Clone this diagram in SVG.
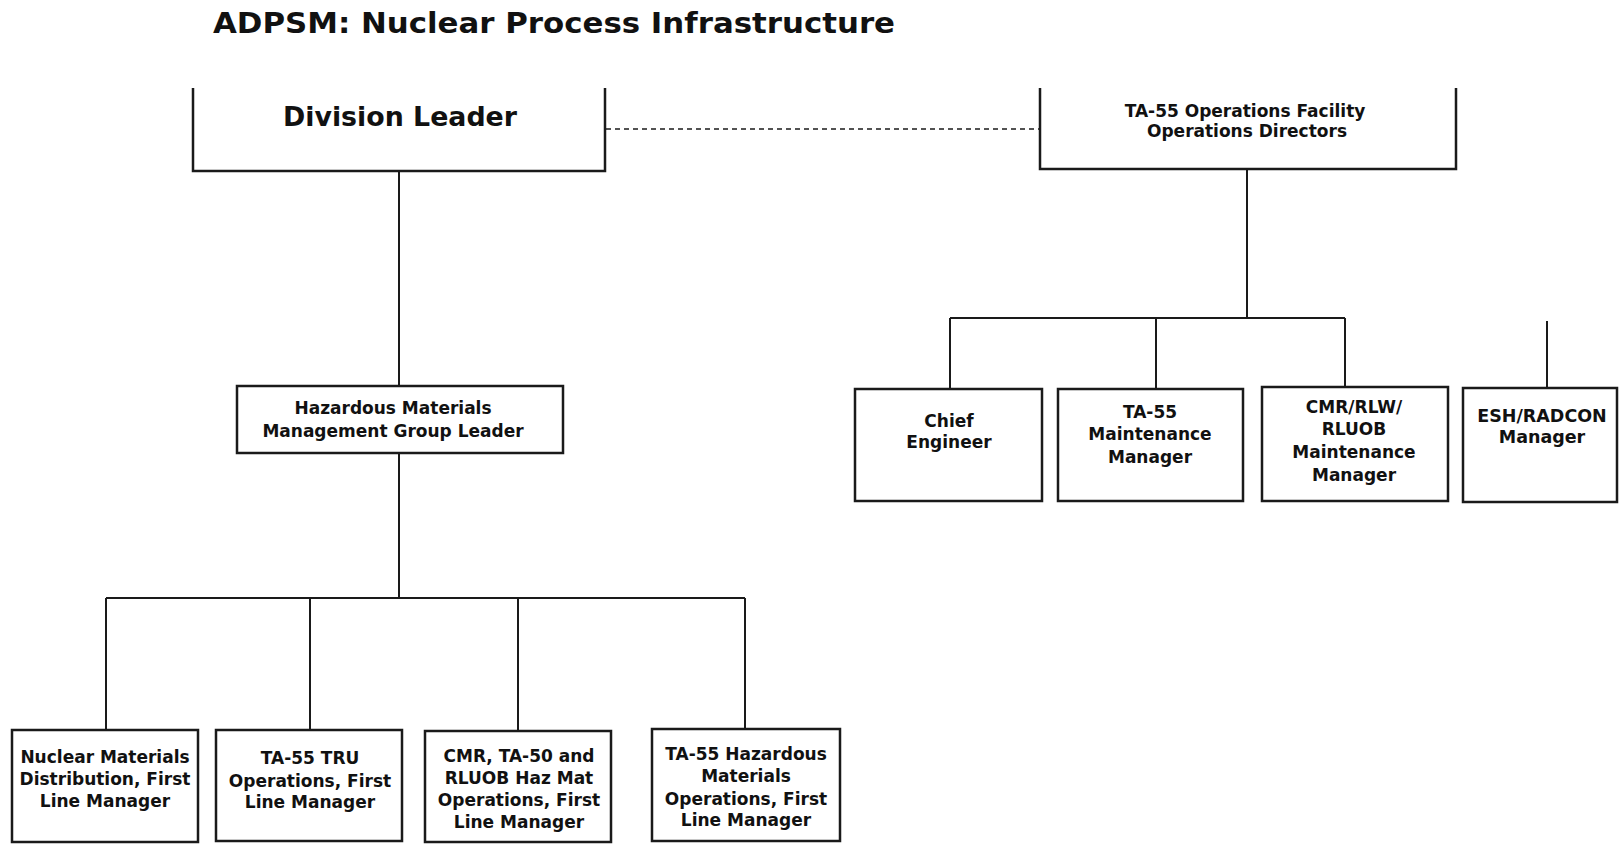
<svg xmlns="http://www.w3.org/2000/svg" width="1621" height="846" viewBox="0 0 1621 846">
<style>
.bg{fill:#ffffff}
.box{fill:none;stroke:#1a1a1a;stroke-width:2.5}
.ln{fill:none;stroke:#1a1a1a;stroke-width:2}
.dash{fill:none;stroke:#1a1a1a;stroke-width:1.6;stroke-dasharray:5 4}
text{font-family:"DejaVu Sans","Liberation Sans",sans-serif;font-weight:bold;fill:#111}
.lbl{font-size:17px;text-anchor:middle}
</style>
<rect class="bg" x="0" y="0" width="1621" height="846"/>
<text x="213" y="33" font-size="28" textLength="682" lengthAdjust="spacingAndGlyphs">ADPSM: Nuclear Process Infrastructure</text>

<g id="connectors">
<line class="dash" x1="606" y1="129" x2="1040" y2="129"/>
<path class="ln" d="M399,171 V387"/>
<path class="ln" d="M399,453 V598"/>
<path class="ln" d="M106,598 H745"/>
<path class="ln" d="M106,598 V730 M310,598 V730 M518,598 V731 M745,598 V729"/>
<path class="ln" d="M1247,169 V318"/>
<path class="ln" d="M950,318 H1345"/>
<path class="ln" d="M950,318 V389 M1156,318 V389 M1345,318 V387"/>
<path class="ln" d="M1547,321 V388"/>
</g>

<g id="division-leader">
<path class="box" d="M193,88 V171 H605 V88"/>
<text x="283" y="126" font-size="27" textLength="234" lengthAdjust="spacingAndGlyphs">Division Leader</text>
</g>

<g id="ta55-ops-directors">
<path class="box" d="M1040,88 V169 H1456 V88"/>
<text class="lbl" x="1245" y="117">TA-55 Operations Facility</text>
<text class="lbl" x="1247" y="137">Operations Directors</text>
</g>

<g id="hazmat-group-leader">
<rect class="box" x="237" y="386" width="326" height="67"/>
<text class="lbl" x="393" y="414">Hazardous Materials</text>
<text class="lbl" x="393" y="437">Management Group Leader</text>
</g>

<g id="chief-engineer">
<rect class="box" x="855" y="389" width="187" height="112"/>
<text class="lbl" x="949" y="427">Chief</text>
<text class="lbl" x="949" y="448">Engineer</text>
</g>

<g id="ta55-maintenance">
<rect class="box" x="1058" y="389" width="185" height="112"/>
<text class="lbl" x="1150" y="418">TA-55</text>
<text class="lbl" x="1150" y="440">Maintenance</text>
<text class="lbl" x="1150" y="463">Manager</text>
</g>

<g id="cmr-maintenance">
<rect class="box" x="1262" y="387" width="186" height="114"/>
<text class="lbl" x="1354" y="413">CMR/RLW/</text>
<text class="lbl" x="1354" y="435">RLUOB</text>
<text class="lbl" x="1354" y="458">Maintenance</text>
<text class="lbl" x="1354" y="481">Manager</text>
</g>

<g id="esh-radcon">
<rect class="box" x="1463" y="388" width="154" height="114"/>
<text class="lbl" x="1542" y="422" style="font-size:17.5px">ESH/RADCON</text>
<text class="lbl" x="1542" y="443" style="font-size:17.5px">Manager</text>
</g>

<g id="nm-distribution">
<rect class="box" x="12" y="730" width="186" height="112"/>
<text class="lbl" x="105" y="763">Nuclear Materials</text>
<text class="lbl" x="105" y="785">Distribution, First</text>
<text class="lbl" x="105" y="807">Line Manager</text>
</g>

<g id="ta55-tru">
<rect class="box" x="216" y="730" width="186" height="111"/>
<text class="lbl" x="310" y="764">TA-55 TRU</text>
<text class="lbl" x="310" y="787">Operations, First</text>
<text class="lbl" x="310" y="808">Line Manager</text>
</g>

<g id="cmr-ta50-hazmat">
<rect class="box" x="425" y="731" width="186" height="111"/>
<text class="lbl" x="519" y="762">CMR, TA-50 and</text>
<text class="lbl" x="519" y="784">RLUOB Haz Mat</text>
<text class="lbl" x="519" y="806">Operations, First</text>
<text class="lbl" x="519" y="828">Line Manager</text>
</g>

<g id="ta55-hazmat-ops">
<rect class="box" x="652" y="729" width="188" height="112"/>
<text class="lbl" x="746" y="760">TA-55 Hazardous</text>
<text class="lbl" x="746" y="782">Materials</text>
<text class="lbl" x="746" y="805">Operations, First</text>
<text class="lbl" x="746" y="826">Line Manager</text>
</g>
</svg>
